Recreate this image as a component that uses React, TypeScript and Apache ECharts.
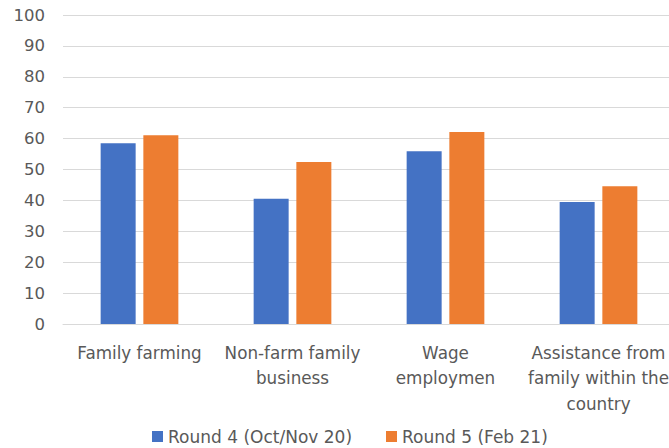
import React, { useEffect, useRef } from "react";
import * as echarts from "echarts";

const categories = [
  "Family farming",
  "Non-farm family\nbusiness",
  "Wage\nemploymen",
  "Assistance from\nfamily within the\ncountry",
];
const round4 = [58.5, 40.5, 55.9, 39.5];
const round5 = [61.1, 52.4, 62.1, 44.6];
const seriesNames = ["Round 4 (Oct/Nov 20)", "Round 5 (Feb 21)"];

export default function App() {
  const ref = useRef<HTMLDivElement>(null);
  useEffect(() => {
    const chart = echarts.init(ref.current!, null, { renderer: "svg" });
    const font = "DejaVu Sans";
    chart.setOption({
      animation: false,
      backgroundColor: "#ffffff",
      textStyle: { fontFamily: font },
      grid: { left: 63, right: 0, top: 15, bottom: 124 },
      legend: {
        left: 152,
        top: 428,
        padding: 0,
        itemWidth: 11,
        itemHeight: 11,
        itemGap: 34,
        icon: "rect",
        textStyle: { fontSize: 17, lineHeight: 17, color: "#595959", fontFamily: font },
        data: seriesNames,
      },
      xAxis: {
        type: "category",
        data: categories,
        axisLine: { show: true, lineStyle: { color: "#d9d9d9", width: 1 } },
        axisTick: { show: false },
        axisLabel: {
          interval: 0,
          margin: 16,
          fontSize: 16.8,
          color: "#595959",
          lineHeight: 25.5,
          fontFamily: font,
        },
      },
      yAxis: {
        type: "value",
        min: 0,
        max: 100,
        interval: 10,
        axisLine: { show: false },
        axisTick: { show: false },
        splitLine: { lineStyle: { color: "#d9d9d9", width: 1 } },
        axisLabel: { fontSize: 16.5, color: "#595959", margin: 18, fontFamily: font },
      },
      series: [
        {
          name: seriesNames[0],
          type: "bar",
          data: round4,
          barWidth: 35,
          barGap: "22%",
          itemStyle: { color: "#4472C4" },
        },
        {
          name: seriesNames[1],
          type: "bar",
          data: round5,
          barWidth: 35,
          barGap: "22%",
          itemStyle: { color: "#ED7D31" },
        },
      ],
    });
    return () => chart.dispose();
  }, []);
  return (
    <div
      style={{
        position: "absolute",
        left: 0,
        top: 0,
        width: 669,
        height: 448,
        overflow: "hidden",
      }}
    >
      <div ref={ref} style={{ width: 675, height: 448 }} />
    </div>
  );
}
